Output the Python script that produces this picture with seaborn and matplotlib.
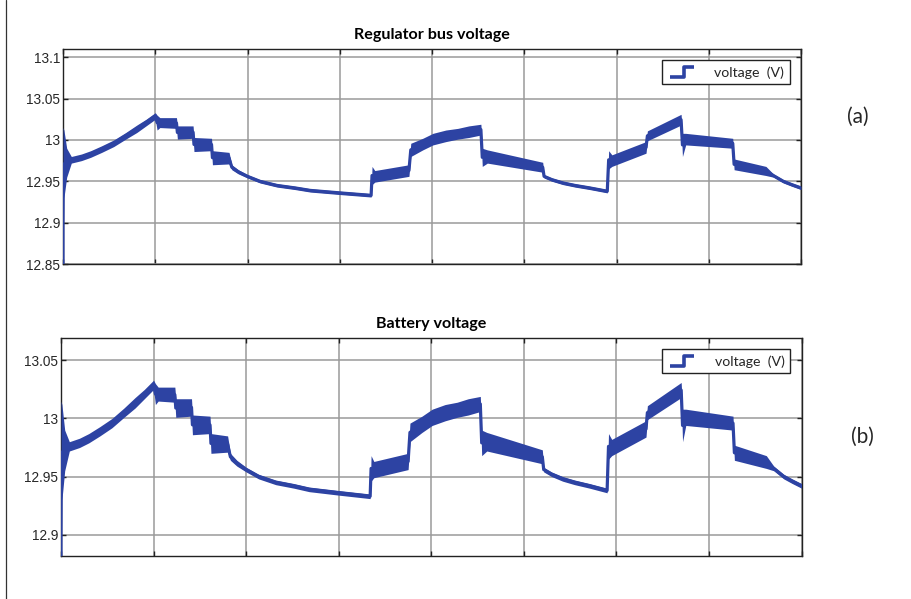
import numpy as np
import pandas as pd
import matplotlib
matplotlib.use("Agg")
import matplotlib.pyplot as plt
from matplotlib.lines import Line2D
from matplotlib.path import Path
import seaborn as sns

# Voltage trace: time knots with lower / upper envelope of the switching ripple (V)
time = [0.000, 0.000, 0.010, 0.040, 0.090, 0.200, 0.300, 0.420, 0.550, 0.680,
        0.800, 0.900, 1.000,
        1.020, 1.050, 1.230, 1.240, 1.410, 1.420, 1.610, 1.620, 1.800,
        1.830, 1.900, 2.000, 2.135, 2.320, 2.515, 2.680, 3.000, 3.340,
        3.350, 3.380, 3.750,
        3.770, 3.900, 4.010, 4.150, 4.280, 4.400, 4.530,
        4.545, 4.600, 5.200,
        5.215, 5.300, 5.420, 5.550, 5.710, 5.900,
        5.915, 5.950, 6.320, 6.335, 6.700,
        6.715, 6.750, 7.260, 7.275, 7.620,
        7.700, 7.808, 7.900, 8.000]
v_low = [12.850, 12.850, 12.930, 12.955, 12.972, 12.975, 12.979, 12.985, 12.992, 13.001,
         13.009, 13.017, 13.025,
         13.012, 13.015, 13.014, 13.001, 13.002, 12.986, 12.987, 12.970, 12.971,
         12.964, 12.959, 12.954, 12.948, 12.943, 12.940, 12.937, 12.934, 12.931,
         12.946, 12.949, 12.956,
         12.980, 12.988, 12.994, 12.998, 13.001, 13.003, 13.006,
         12.968, 12.972, 12.961,
         12.954, 12.950, 12.946, 12.943, 12.940, 12.936,
         12.965, 12.968, 12.984, 12.999, 13.018,
         12.980, 12.994, 12.990, 12.964, 12.957,
         12.955, 12.948, 12.944, 12.940]
v_high = [12.850, 13.015, 13.012, 12.990, 12.980, 12.983, 12.987, 12.993, 13.000, 13.009,
          13.018, 13.025, 13.033,
          13.030, 13.027, 13.027, 13.017, 13.017, 13.003, 13.002, 12.987, 12.985,
          12.970, 12.964, 12.958, 12.952, 12.947, 12.944, 12.941, 12.938, 12.935,
          12.968, 12.963, 12.970,
          12.996, 13.002, 13.008, 13.012, 13.014, 13.017, 13.019,
          12.990, 12.988, 12.973,
          12.958, 12.954, 12.950, 12.947, 12.944, 12.940,
          12.987, 12.982, 12.998, 13.011, 13.031,
          13.008, 13.008, 13.002, 12.977, 12.968,
          12.959, 12.952, 12.948, 12.944]

panel_titles = ["Regulator bus voltage", "Battery voltage"]
panel_tags = ["(a)", "(b)"]
legend_label = "voltage  (V)"
yticks_a = [12.85, 12.9, 12.95, 13.0, 13.05, 13.1]
yticks_b = [12.9, 12.95, 13.0, 13.05]
ylim_a = (12.85, 13.110)
ylim_b = (12.8816, 13.0693)
xgrid = [0, 1, 2, 3, 4, 5, 6, 7, 8]

df = pd.DataFrame({"t": time, "lo": v_low, "hi": v_high})
df["mid"] = (df["lo"] + df["hi"]) / 2

BLUE = "#2d43a3"
sns.set_style("white")
plt.rcParams["font.family"] = ["Liberation Sans", "DejaVu Sans"]

W, H = 911, 599
fig = plt.figure(figsize=(W / 100, H / 100), dpi=100)


def axes_box(x0, y0, x1, y1):
    return [x0 / W, 1 - y1 / H, (x1 - x0) / W, (y1 - y0) / H]


ax_a = fig.add_axes(axes_box(63, 49, 801, 264))
ax_b = fig.add_axes(axes_box(61, 338, 801.5, 556))

# step-shaped legend glyph
step_path = Path([(-1.0, -0.42), (0.15, -0.42), (0.15, 0.42), (1.0, 0.42)],
                 [Path.MOVETO, Path.LINETO, Path.LINETO, Path.LINETO])
step_handle = Line2D([], [], linestyle="none", marker=step_path, markersize=17,
                     markerfacecolor="none", markeredgecolor=BLUE,
                     markeredgewidth=2.6)

for ax, ylim, yt, title in [(ax_a, ylim_a, yticks_a, panel_titles[0]),
                            (ax_b, ylim_b, yticks_b, panel_titles[1])]:
    ax.fill_between(df["t"], df["lo"], df["hi"], color=BLUE, lw=0, zorder=3)
    sns.lineplot(data=df, x="t", y="mid", ax=ax, color=BLUE, lw=2.3,
                 estimator=None, sort=False, zorder=3)
    ax.set_xlim(0, 8)
    ax.set_ylim(*ylim)
    ax.set_xticks(xgrid)
    ax.set_xticklabels([])
    ax.set_yticks(yt)
    ax.set_yticklabels([f"{v:g}" for v in yt])
    ax.set_xlabel("")
    ax.set_ylabel("")
    ax.grid(True, color="#9a9a9a", lw=1.1, zorder=1)
    ax.set_axisbelow(True)
    for s in ax.spines.values():
        s.set_color("#222222")
        s.set_linewidth(1.0)
    ax.tick_params(direction="in", length=3.5, width=1.0, color="#222222",
                   top=True, right=True, bottom=True, left=True,
                   labelsize=9.8, labelcolor="#262626", pad=2)
    ax.set_title(title, fontfamily="Lato", fontweight="bold", fontsize=11.6,
                 pad=7, color="black")
    leg = ax.legend([step_handle], [legend_label], loc="upper right",
                    bbox_to_anchor=(1.0, 1.0), borderaxespad=0.8,
                    fancybox=False, framealpha=1, edgecolor="#222222",
                    prop={"family": "Lato", "size": 10.2}, handlelength=2.0,
                    handletextpad=1.3, borderpad=0.4)
    leg.get_frame().set_linewidth(1.0)

fig.text(858 / W, 1 - 117 / H, panel_tags[0], fontfamily="Lato", fontsize=15,
         ha="center", va="center")
fig.text(862 / W, 1 - 437 / H, panel_tags[1], fontfamily="Lato", fontsize=15,
         ha="center", va="center")

# thin frame line along the left edge
fig.add_artist(Line2D([6 / W, 6 / W], [0, 1], transform=fig.transFigure,
                      color="#333333", lw=0.9))

fig.savefig("out.png", dpi=100)
